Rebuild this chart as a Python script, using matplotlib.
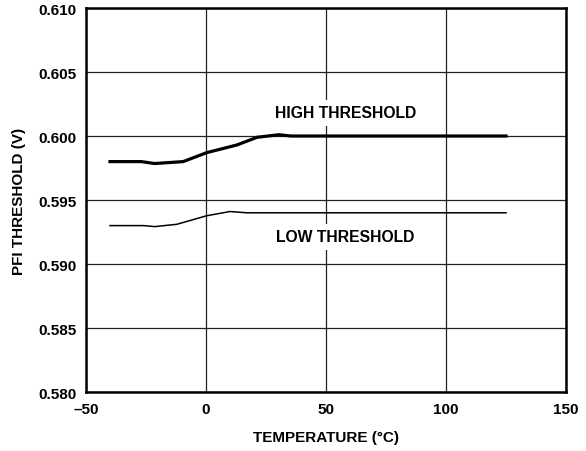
import matplotlib
matplotlib.use("Agg")
import matplotlib.pyplot as plt

high_t = [-40, -27, -21.4, -9.5, 0.3, 12.9, 21.3, 30.4, 35.3, 125]
high_v = [0.5980, 0.5980, 0.59785, 0.5980, 0.5987, 0.5993, 0.5999, 0.6001, 0.6000, 0.6000]
low_t = [-40, -26, -21.4, -12.2, 0.3, 10, 17, 125]
low_v = [0.5930, 0.5930, 0.59292, 0.5931, 0.59377, 0.5941, 0.5940, 0.5940]

xticks = [-50, 0, 50, 100, 150]
xtick_labels = ["\u201350", "0", "50", "100", "150"]
yticks = [0.580, 0.585, 0.590, 0.595, 0.600, 0.605, 0.610]

plt.rcParams['font.family'] = ['Liberation Sans', 'DejaVu Sans']
plt.rcParams['font.weight'] = 'bold'

fig = plt.figure(figsize=(5.86, 4.52), dpi=100)
ax = fig.add_axes([86/586, 1-393/452, (566-86)/586, (393-9)/452])

ax.plot(high_t, high_v, color='black', lw=2.3, zorder=3)
ax.plot(low_t, low_v, color='black', lw=1.1, zorder=3)

ax.set_xlim(-50, 150)
ax.set_ylim(0.580, 0.610)
ax.set_xticks(xticks)
ax.set_xticklabels(xtick_labels)
ax.set_yticks(yticks)
ax.set_yticklabels([f"{v:.3f}" for v in yticks])
ax.grid(True, color='#222222', lw=0.9, zorder=1)
ax.set_axisbelow(True)
ax.tick_params(length=0, pad=7, labelsize=11)
for s in ax.spines.values():
    s.set_linewidth(1.8)

ax.set_xlabel("TEMPERATURE (\u00b0C)", fontsize=11, fontweight='bold', labelpad=10)
ax.set_ylabel("PFI THRESHOLD (V)", fontsize=11, fontweight='bold', labelpad=9)

box = dict(facecolor='white', edgecolor='none', pad=4)
ax.text(58.3, 0.60182, "HIGH THRESHOLD", ha='center', va='center', fontsize=11.3,
        fontweight='bold', bbox=box, zorder=2)
ax.text(58.0, 0.59213, "LOW THRESHOLD", ha='center', va='center', fontsize=11.3,
        fontweight='bold', bbox=box, zorder=2)

fig.savefig("out.png", dpi=100)
